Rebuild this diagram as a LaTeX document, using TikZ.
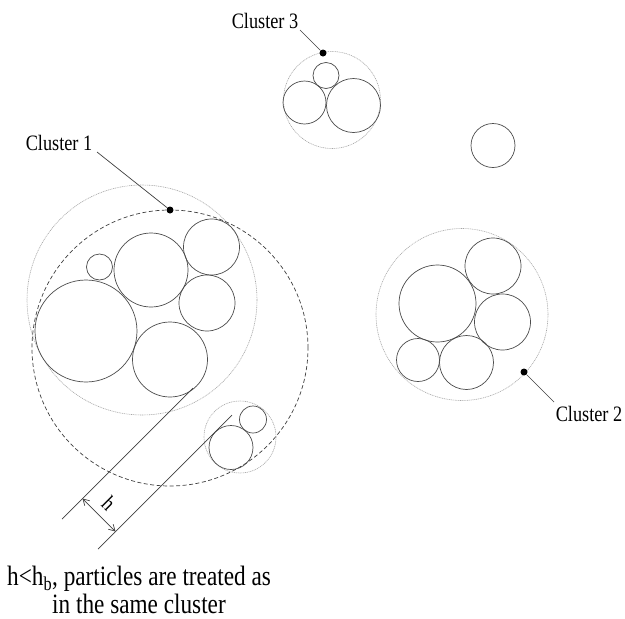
\documentclass[tikz,border=0pt]{standalone}
\usepackage{fontspec}
\setmainfont{Liberation Serif}[FakeStretch=0.83]
\usetikzlibrary{arrows.meta}
\begin{document}
\begin{tikzpicture}[x=1pt,y=-1pt,
  particle/.style={draw=black!70,line width=0.7pt},
  envelope/.style={draw=black!35,line width=0.6pt,dash pattern=on 1pt off 0.8pt},
  bound/.style={draw=black!75,line width=0.7pt,dash pattern=on 4pt off 2.5pt},
  leader/.style={draw=black!75,line width=0.7pt},
  dotmark/.style={circle,fill=black,inner sep=0pt,minimum size=7pt},
  lbl/.style={font=\fontsize{22}{26}\selectfont,inner sep=0pt},
  note/.style={font=\fontsize{28}{30}\selectfont,inner sep=0pt,anchor=base west},
  ext/.style={draw=black!75,line width=0.7pt},
  dim/.style={draw=black!75,line width=0.7pt,{Straight Barb[length=6pt,width=7pt]}-{Straight Barb[length=6pt,width=7pt]}}]
\useasboundingbox (0,0) rectangle (625,619);
\fill[white] (0,0) rectangle (625,619);

% ---- Cluster 1 ----
\draw[envelope] (142,300) circle[radius=115pt];
\draw[bound] (170,348) circle[radius=138pt];
\draw[particle] (86,331) circle[radius=51pt];
\draw[particle] (99.5,267) circle[radius=13pt];
\draw[particle] (151,270) circle[radius=37pt];
\draw[particle] (211.5,247) circle[radius=28pt];
\draw[particle] (207,303) circle[radius=28pt];
\draw[particle] (170,359.5) circle[radius=37.5pt];
\node[dotmark] (d1) at (170,210) {};
\node[lbl] (c1) at (59,143) {Cluster 1};
\coordinate (c1e) at (97,152);
\draw[leader] (c1e) -- (d1);

% ---- small pair near cluster 1 ----
\draw[envelope] (240,437) circle[radius=36pt];
\draw[particle] (253,419.5) circle[radius=13.5pt];
\draw[particle] (231,447.5) circle[radius=22pt];

% ---- distance h ----
\coordinate (a1) at (193,388);
\coordinate (a2) at (62,519);
\coordinate (b1) at (232,415);
\coordinate (b2) at (98,549);
\draw[ext] (a1) -- (a2);
\draw[ext] (b1) -- (b2);
\coordinate (h1) at (82.5,498.5);
\coordinate (h2) at (115.5,531.5);
\draw[dim] (h1) -- (h2);
\node[lbl,rotate=-45] (hl) at (109,503) {h};

% ---- Cluster 3 ----
\draw[envelope] (332,100) circle[radius=48.5pt];
\draw[particle] (326,75.5) circle[radius=13pt];
\draw[particle] (304.5,102.5) circle[radius=21.5pt];
\draw[particle] (353.5,105.5) circle[radius=27pt];
\node[dotmark] (d3) at (323,53) {};
\node[lbl] (c3) at (265,21) {Cluster 3};
\coordinate (c3e) at (300,30);
\draw[leader] (c3e) -- (d3);

% ---- lone particle ----
\draw[particle] (493,145.5) circle[radius=22pt];

% ---- Cluster 2 ----
\draw[envelope] (462,314.5) circle[radius=86pt];
\draw[particle] (437.5,303.5) circle[radius=38.5pt];
\draw[particle] (493,266) circle[radius=28pt];
\draw[particle] (502.5,322) circle[radius=28pt];
\draw[particle] (418,360) circle[radius=21.5pt];
\draw[particle] (466.5,362.5) circle[radius=27pt];
\node[dotmark] (d2) at (524,372) {};
\node[lbl] (c2) at (589,414) {Cluster 2};
\coordinate (c2e) at (554,402);
\draw[leader] (d2) -- (c2e);

% ---- note ----
\node[note] (n1) at (7,585) {h<h\textsubscript{b}, particles are treated as};
\node[note] (n2) at (52,613) {in the same cluster};
\end{tikzpicture}
\end{document}
